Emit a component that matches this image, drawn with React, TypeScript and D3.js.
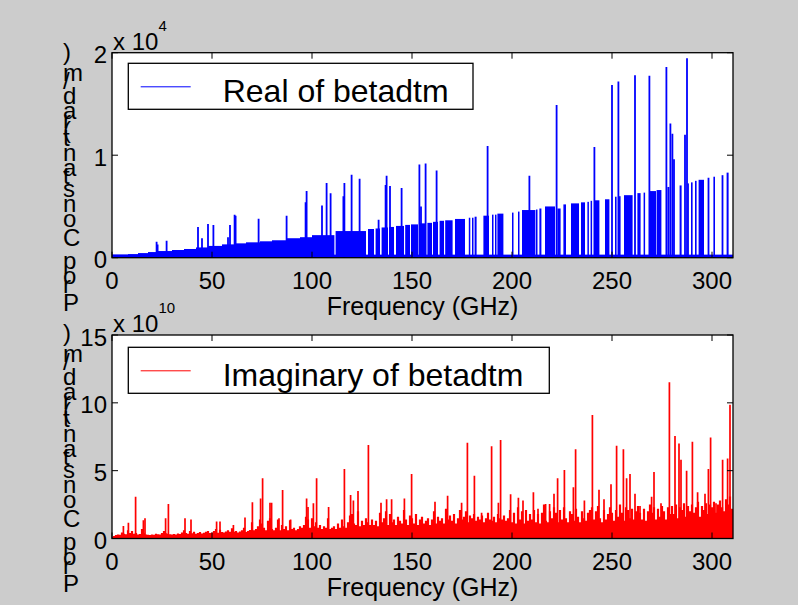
import * as d3 from 'd3';

const xTicks = [0, 50, 100, 150, 200, 250, 300];
const realTicks = [0, 1, 2];
const imagTicks = [0, 5, 10, 15];

// dense blue base of the real part: [from GHz, to GHz, value in 1e4]
const realBase: [number, number, number][] = [
  [0, 310.5, 0.03],
  [0, 8, 0.03], [8, 13, 0.035], [13, 18, 0.045], [18, 22, 0.055], [22, 30, 0.065],
  [30, 36, 0.075], [36, 42, 0.085], [42, 48, 0.1], [48, 55, 0.115], [55, 62, 0.13],
  [62, 67, 0.14], [67, 74, 0.15], [74, 80, 0.16], [80, 87, 0.17], [87, 94, 0.19],
  [94, 100, 0.2], [100, 111.2, 0.22], [111.8, 127, 0.26],
  [128, 131, 0.28], [131.8, 134, 0.285], [134.8, 138, 0.295], [138.5, 141, 0.3],
  [142, 146, 0.31], [146.6, 149, 0.32], [149.5, 153, 0.325], [154, 157, 0.335],
  [157.7, 160, 0.34], [160.5, 163, 0.35], [163.8, 166, 0.36], [166.6, 170.3, 0.365],
  [171.5, 176.5, 0.378], [178.4, 179, 0.39], [180, 180.7, 0.39], [181.3, 182.3, 0.4],
  [185.7, 188.5, 0.41], [190, 190.5, 0.42], [191.5, 192, 0.42], [192.7, 195.7, 0.43],
  [200, 200.7, 0.44], [203, 203.5, 0.45], [205, 211.7, 0.465], [212, 212.7, 0.47],
  [213.7, 214.7, 0.48], [216.5, 221.5, 0.5], [222.7, 224.3, 0.48], [225.7, 227, 0.52],
  [229.5, 233.5, 0.53], [234.5, 236.5, 0.54], [237.7, 238.3, 0.545], [239.3, 240, 0.555],
  [241, 243.7, 0.56], [246.5, 248.7, 0.57], [251.5, 252.3, 0.595], [253.2, 254.3, 0.6],
  [256, 260.3, 0.61], [262.7, 264.3, 0.63], [265.8, 266.5, 0.635], [269, 272, 0.65],
  [272.3, 274.7, 0.66], [277.7, 278.7, 0.69], [283.8, 284.8, 0.705], [287.7, 288.3, 0.725],
  [289.5, 290.3, 0.735], [291.5, 292.3, 0.75], [293.3, 296, 0.76], [297.8, 298.7, 0.78],
  [300.7, 301.5, 0.79], [304.8, 305.7, 0.805], [307.3, 308.3, 0.83],
];

// tall blue lines: [GHz, value in 1e4]
const realSpikes: [number, number][] = [
  [22.3, 0.155], [22.8, 0.13], [27.3, 0.165], [43, 0.3], [45, 0.19], [48, 0.33],
  [50.7, 0.32], [58, 0.2], [59, 0.32], [61.3, 0.42], [61.8, 0.41], [73.3, 0.38],
  [87.3, 0.41], [96.8, 0.54], [97.3, 0.65], [105, 0.51], [107.3, 0.73], [109.3, 0.63],
  [115.7, 0.6], [116.2, 0.73], [119.8, 0.81], [123.8, 0.77], [133.3, 0.37], [136.8, 0.71],
  [137.3, 0.8], [139, 0.7], [144.8, 0.68], [153.7, 0.91], [154.5, 0.5], [156.8, 0.92],
  [162.3, 0.85], [187.8, 1.09], [208.7, 0.8], [222.3, 1.49], [241.2, 1.08], [250, 1.685],
  [253.2, 1.72], [261.5, 1.78], [268.7, 1.775], [277.2, 1.86], [279.2, 1.31], [280.2, 1.21],
  [281, 0.96], [286.5, 1.2], [287.5, 1.945],
];

// imaginary part, one value per GHz from 0 to 310 (1e10)
const imagFloor = [
  0.10, 0.18, 0.25, 0.30, 0.28, 0.45, 0.35, 0.32, 0.60, 0.40,
  0.55, 0.35, 0.40, 0.30, 0.33, 0.70, 0.38, 0.30, 0.28, 0.25,
  0.30, 0.28, 0.35, 0.32, 0.30, 0.40, 0.55, 0.38, 0.35, 0.32,
  0.30, 0.34, 0.30, 0.36, 0.33, 0.45, 0.60, 0.40, 0.35, 0.55,
  0.38, 0.50, 0.35, 0.40, 0.48, 0.36, 0.42, 0.50, 0.55, 0.40,
  0.45, 0.55, 0.70, 0.42, 0.65, 0.48, 0.45, 0.52, 0.60, 0.50,
  0.75, 0.50, 0.55, 0.45, 0.52, 0.60, 0.80, 0.48, 0.55, 0.62,
  1.20, 0.60, 0.70, 0.90, 1.40, 1.10, 0.80, 0.60, 1.30, 1.50,
  0.70, 0.60, 0.80, 1.40, 0.60, 1.00, 0.70, 0.90, 0.60, 1.35,
  0.70, 0.80, 0.60, 0.70, 0.90, 0.80, 1.00, 1.60, 1.40, 0.80,
  1.50, 0.90, 1.20, 0.80, 1.00, 0.70, 0.90, 0.80, 1.50, 0.70,
  0.80, 0.90, 0.70, 1.10, 0.80, 1.40, 0.90, 0.80, 1.20, 1.70,
  1.80, 1.10, 1.00, 2.00, 0.90, 1.30, 1.00, 1.50, 1.20, 1.00,
  1.40, 1.00, 1.30, 0.90, 1.90, 1.20, 1.50, 2.00, 1.00, 1.80,
  1.20, 1.40, 1.00, 1.60, 1.30, 1.10, 2.10, 1.40, 1.00, 1.70,
  1.50, 1.10, 1.80, 1.00, 1.40, 1.60, 1.10, 1.30, 1.50, 1.00,
  1.40, 2.00, 1.10, 1.60, 1.30, 1.50, 1.10, 2.20, 1.40, 1.70,
  1.30, 1.80, 1.10, 1.50, 2.10, 1.40, 1.60, 2.00, 1.20, 1.70,
  1.50, 1.80, 1.30, 1.60, 1.40, 1.70, 1.20, 1.50, 1.90, 1.40,
  1.30, 1.60, 1.20, 1.80, 1.50, 1.40, 1.70, 1.30, 1.50, 2.10,
  1.20, 1.90, 1.10, 2.30, 1.40, 2.00, 1.10, 2.10, 1.30, 1.80,
  1.40, 2.10, 1.20, 1.80, 1.10, 1.90, 2.50, 1.30, 1.20, 2.00,
  1.50, 2.30, 1.90, 1.20, 2.10, 1.40, 2.30, 1.50, 1.20, 2.00,
  1.80, 1.30, 2.20, 1.60, 1.20, 2.00, 1.50, 1.30, 1.90, 2.10,
  2.30, 1.40, 2.00, 2.40, 1.50, 1.20, 2.10, 1.40, 1.80, 2.30,
  1.90, 1.30, 2.10, 1.60, 2.50, 1.90, 1.30, 2.30, 2.10, 1.50,
  2.20, 1.40, 2.00, 2.40, 1.90, 1.40, 2.20, 1.30, 2.00, 2.50,
  1.90, 2.30, 1.40, 2.20, 1.60, 2.40, 2.00, 1.40, 2.30, 1.80,
  2.40, 1.80, 2.50, 1.50, 2.30, 2.10, 2.60, 1.60, 2.40, 2.00,
  2.50, 1.90, 2.30, 2.70, 1.60, 2.40, 2.10, 2.60, 1.80, 2.50,
  2.30, 2.70, 1.90, 2.50, 2.80, 2.30, 2.00, 2.90, 2.50, 3.10,
  2.20,
];

// tall red lines: [GHz, value in 1e10]
const imagSpikes: [number, number][] = [
  [5.7, 0.92], [8.2, 1.17], [11.8, 3.08], [15.7, 1.35], [16.5, 1.5], [26.8, 1.5],
  [28.2, 2.54], [36.5, 1.5], [39.5, 1.4], [52.3, 1.25], [54, 1.25], [60.7, 1.0],
  [66.5, 1.55], [70.2, 2.67], [74.3, 2.95], [75.3, 4.44], [79, 2.64], [79.8, 2.64],
  [83.5, 1.5], [85.3, 3.58], [89.3, 1.4], [97.3, 2.95], [98, 2.33], [100.7, 2.6],
  [102.3, 4.44], [108.3, 2.33], [116.2, 5.13], [119.3, 3.2], [120.7, 2.8], [123, 3.5],
  [128.2, 6.9], [134.5, 2.64], [137.3, 2.9], [139.8, 2.9], [146.2, 2.95], [149.8, 4.76],
  [161.5, 2.7], [167.8, 3.15], [174.8, 2.64], [177.7, 7.05], [181.2, 4.63], [184.8, 1.9],
  [189.8, 6.8], [193.2, 2.64], [194.3, 7.26], [199.3, 3.26], [203.2, 3.0], [205.5, 2.8],
  [210.7, 3.4], [213, 2.2], [216.8, 2.55], [218.8, 2.55], [221, 3.3], [222.8, 4.44],
  [226.2, 5.05], [230.7, 3.77], [231.8, 6.57], [236.2, 2.8], [240.2, 9.1], [243.5, 3.6],
  [246, 2.9], [249.5, 4.0], [252.3, 6.83], [255.7, 6.57], [257.3, 4.44], [259, 4.76],
  [261.5, 3.3], [264, 2.4], [269.8, 3.08], [271, 4.9], [274.5, 2.6], [278.7, 11.52],
  [281.5, 7.56], [283.5, 7.0], [284.5, 5.8], [287.3, 5.0], [290.2, 7.14], [292.8, 3.4],
  [296.5, 3.3], [298.2, 5.13], [299.3, 7.45], [302, 2.6], [305.3, 5.8], [307.8, 5.9],
  [309, 9.85],
];

const FONT = '"Liberation Sans", Arial, Helvetica, sans-serif';
const LEFT = 112;
const RIGHT = 733;
const TICK = 6;

const x = d3.scaleLinear().domain([0, 310.5]).range([LEFT, RIGHT]);

interface PanelProps {
  id: string;
  top: number;
  bottom: number;
  yMax: number;
  ticks: number[];
  exponent: string;
  legend: string;
  legendTop: number;
  legendWidth: number;
  color: string;
  marks: (y: d3.ScaleLinear<number, number>) => JSX.Element;
}

function Panel({ id, top, bottom, yMax, ticks, exponent, legend, legendTop, legendWidth, color, marks }: PanelProps) {
  const y = d3.scaleLinear().domain([0, yMax]).range([bottom, top]);
  const yLabelBase = bottom + 53;

  return (
    <g>
      <rect x={LEFT} y={top} width={RIGHT - LEFT} height={bottom - top} fill="#fff" />
      <clipPath id={id}>
        <rect x={LEFT} y={top} width={RIGHT - LEFT} height={bottom - top} />
      </clipPath>
      <g clipPath={`url(#${id})`}>{marks(y)}</g>

      {/* box and ticks */}
      <rect x={LEFT} y={top} width={RIGHT - LEFT} height={bottom - top} fill="none" stroke="#000" strokeWidth={1.3} />
      <g stroke="#000" strokeWidth={1}>
        {xTicks.map(t => (
          <g key={'x' + t}>
            <line x1={x(t)} x2={x(t)} y1={bottom} y2={bottom - TICK} />
            <line x1={x(t)} x2={x(t)} y1={top} y2={top + TICK} />
          </g>
        ))}
        {ticks.map(t => (
          <g key={'y' + t}>
            <line x1={LEFT} x2={LEFT + TICK} y1={y(t)} y2={y(t)} />
            <line x1={RIGHT} x2={RIGHT - TICK} y1={y(t)} y2={y(t)} />
          </g>
        ))}
      </g>

      <g fontFamily={FONT} fontSize={24} fill="#000">
        {xTicks.map(t => (
          <text key={'xl' + t} x={x(t)} y={bottom + 31.5} textAnchor="middle">{t}</text>
        ))}
        {ticks.map(t => (
          <text key={'yl' + t} x={107} y={y(t) + 10.5} textAnchor="end">{t}</text>
        ))}
        <text x={113} y={top - 3}>x 10</text>
        <text x={158.5} y={top - 22} fontSize={15}>{exponent}</text>
        <text x={(LEFT + RIGHT) / 2} y={bottom + 57} fontSize={25} textAnchor="middle">Frequency (GHz)</text>
        {/* upright glyphs stacked along a vertical baseline */}
        <text
          x={63}
          y={yLabelBase}
          transform={`rotate(-90, 63, ${yLabelBase})`}
          rotate="90"
          textLength={259}
          lengthAdjust="spacing"
        >
          Prop Constant(rad/m)
        </text>
      </g>

      {/* legend */}
      <rect x={128.3} y={legendTop} width={legendWidth} height={46} fill="#fff" stroke="#000" strokeWidth={1.3} />
      <line x1={140.7} x2={190.7} y1={legendTop + 23.5} y2={legendTop + 23.5} stroke={color} strokeWidth={1} />
      <text x={222.7} y={legendTop + 38.5} fontFamily={FONT} fontSize={32} fill="#000">{legend}</text>
    </g>
  );
}

export default function App() {
  return (
    <svg
      width={798}
      height={605}
      style={{ position: 'absolute', left: 0, top: 0, background: '#cccccc' }}
    >
      <rect width={798} height={605} fill="#cccccc" />
      <Panel
        id="clip-real"
        top={52.7}
        bottom={257.7}
        yMax={2}
        ticks={realTicks}
        exponent="4"
        legend="Real of betadtm"
        legendTop={63.3}
        legendWidth={344.7}
        color="#0000ff"
        marks={y => (
          <g>
            <g fill="#0000ff">
              {realBase.map(([a, b, v], i) => (
                <rect key={i} x={x(a)} y={y(v)} width={Math.max(1.5, x(b) - x(a))} height={y(0) - y(v)} />
              ))}
            </g>
            <g stroke="#0000ff" strokeWidth={1.8}>
              {realSpikes.map(([f, v], i) => (
                <line key={i} x1={x(f)} x2={x(f)} y1={y(0)} y2={y(v)} />
              ))}
            </g>
          </g>
        )}
      />
      <Panel
        id="clip-imag"
        top={335}
        bottom={538.5}
        yMax={15}
        ticks={imagTicks}
        exponent="10"
        legend="Imaginary of betadtm"
        legendTop={347.3}
        legendWidth={421}
        color="#ff0000"
        marks={y => (
          <g stroke="#ff0000">
            {imagFloor.map((v, i) => (
              <line key={'f' + i} x1={x(i)} x2={x(i)} y1={y(0)} y2={y(v)} strokeWidth={2.2} />
            ))}
            {imagSpikes.map(([f, v], i) => (
              <line key={'s' + i} x1={x(f)} x2={x(f)} y1={y(0)} y2={y(v)} strokeWidth={1.7} />
            ))}
          </g>
        )}
      />
    </svg>
  );
}
